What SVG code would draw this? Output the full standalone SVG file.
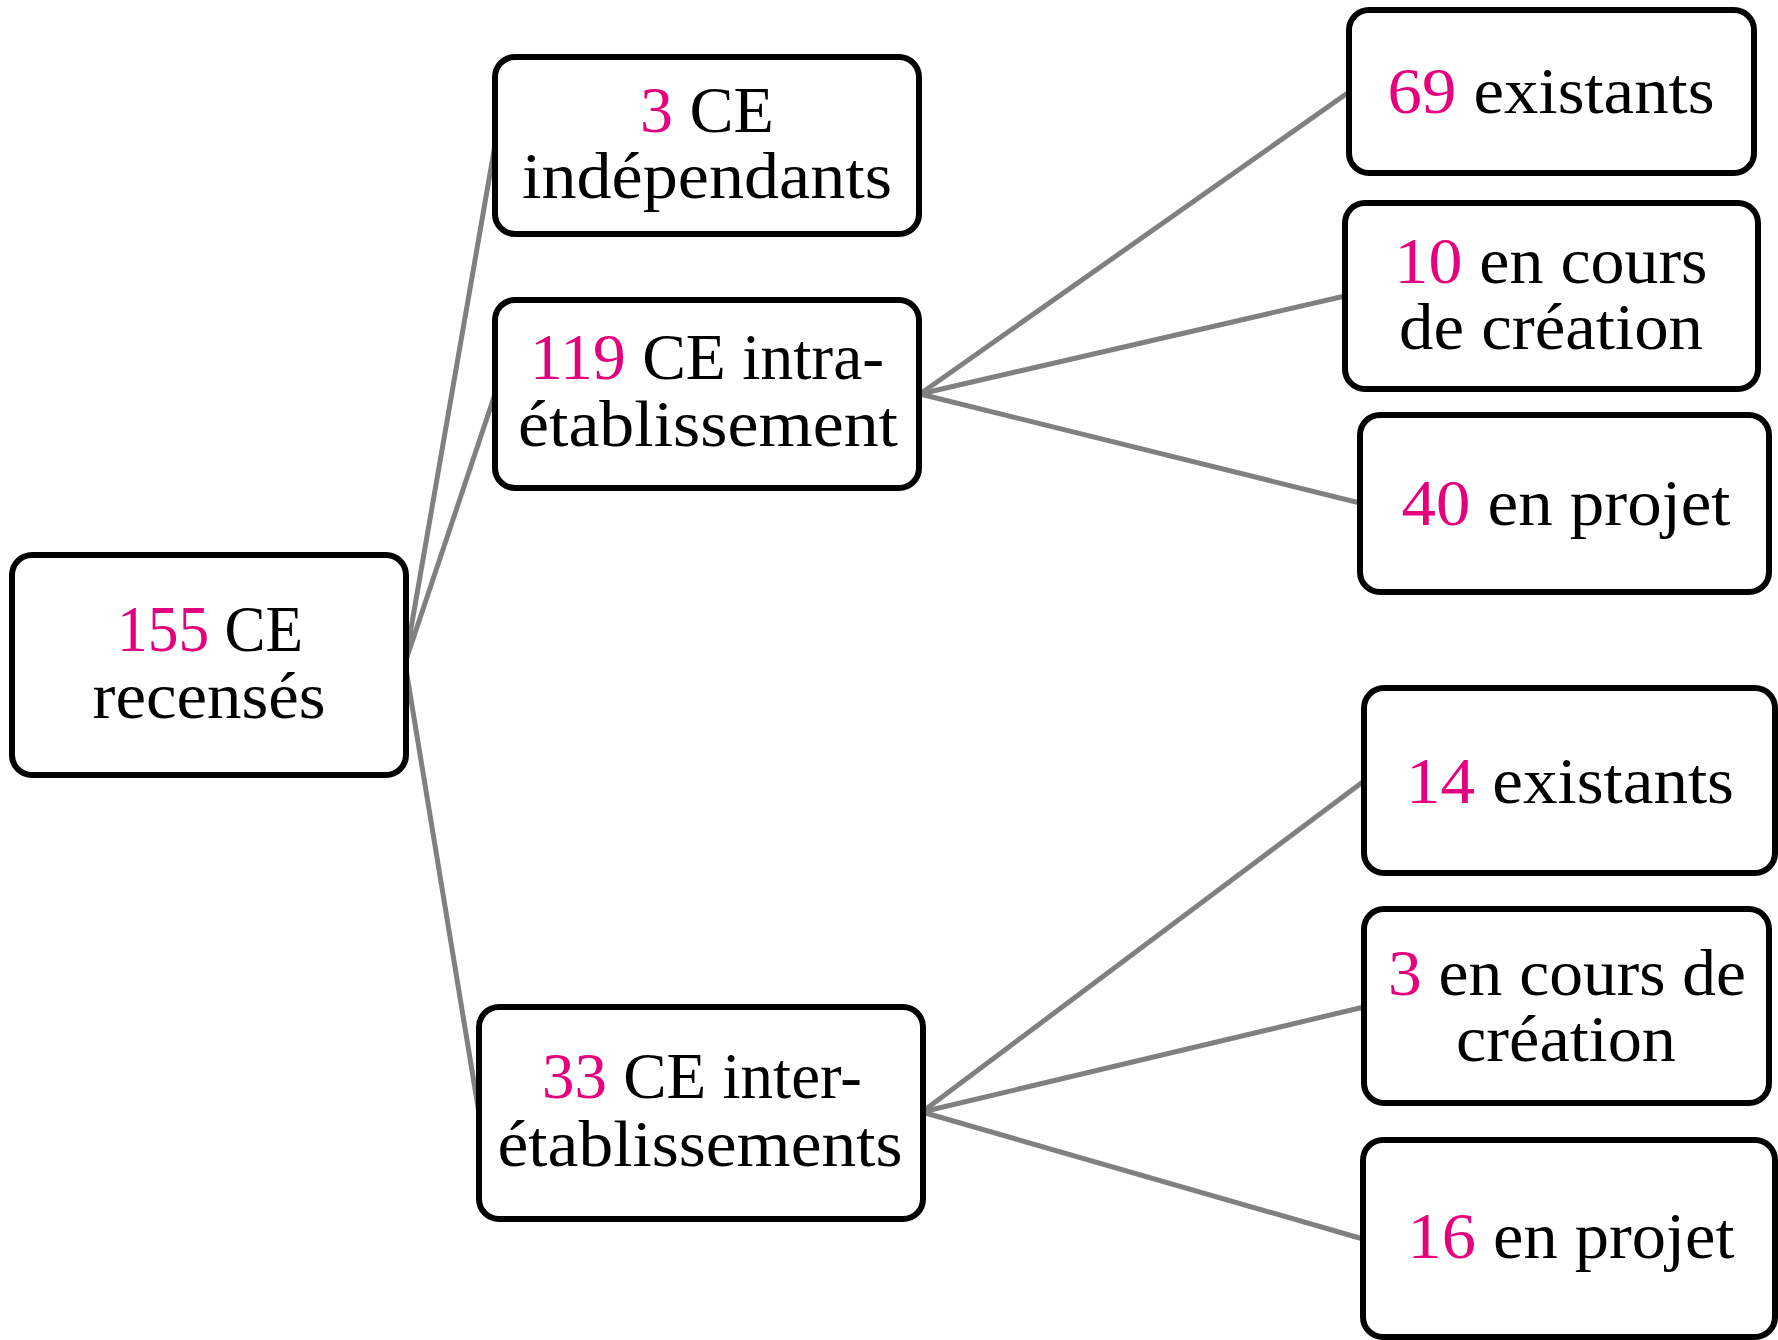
<svg xmlns="http://www.w3.org/2000/svg" width="1778" height="1340" viewBox="0 0 1778 1340">
<style>
.box{fill:#ffffff;stroke:#000000;stroke-width:6}
.t{font-family:"Liberation Serif","Times New Roman",serif;font-size:66px;fill:#000000;text-anchor:middle}
.n{fill:#E5007D}
.c{stroke:#808080;stroke-width:5;fill:none;stroke-linecap:round}
</style>
<rect width="1778" height="1340" fill="#ffffff"/>
<g id="connectors">
<line class="c" x1="405" y1="663" x2="495" y2="145"/>
<line class="c" x1="405" y1="663" x2="495" y2="394"/>
<line class="c" x1="405" y1="663" x2="479" y2="1113"/>
<line class="c" x1="920" y1="394" x2="1349" y2="92"/>
<line class="c" x1="920" y1="394" x2="1345" y2="296"/>
<line class="c" x1="920" y1="394" x2="1360" y2="503"/>
<line class="c" x1="922" y1="1112" x2="1364" y2="781"/>
<line class="c" x1="922" y1="1112" x2="1364" y2="1007"/>
<line class="c" x1="922" y1="1112" x2="1363" y2="1239"/>
</g>
<g id="root">
<rect class="box" x="12" y="555" width="394" height="220" rx="20"/>
<text class="t" x="210" y="651" textLength="186" lengthAdjust="spacingAndGlyphs"><tspan class="n">155</tspan> CE</text>
<text class="t" x="209" y="718" textLength="233" lengthAdjust="spacingAndGlyphs">recensés</text>
</g>
<g id="independants">
<rect class="box" x="495" y="57" width="424" height="177" rx="20"/>
<text class="t" x="707" y="132"><tspan class="n">3</tspan> CE</text>
<text class="t" x="707" y="198" textLength="370" lengthAdjust="spacingAndGlyphs">indépendants</text>
</g>
<g id="intra">
<rect class="box" x="495" y="300" width="424" height="188" rx="20"/>
<text class="t" x="707" y="379" textLength="354" lengthAdjust="spacingAndGlyphs"><tspan class="n">119</tspan> CE intra-</text>
<text class="t" x="708" y="446" textLength="380" lengthAdjust="spacingAndGlyphs">établissement</text>
</g>
<g id="inter">
<rect class="box" x="479" y="1007" width="444" height="212" rx="20"/>
<text class="t" x="702" y="1098" textLength="320" lengthAdjust="spacingAndGlyphs"><tspan class="n">33</tspan> CE inter-</text>
<text class="t" x="700" y="1166" textLength="405" lengthAdjust="spacingAndGlyphs">établissements</text>
</g>
<g id="intra-existants">
<rect class="box" x="1349" y="10" width="405" height="163" rx="20"/>
<text class="t" x="1551" y="113" textLength="327" lengthAdjust="spacingAndGlyphs"><tspan class="n">69</tspan> existants</text>
</g>
<g id="intra-creation">
<rect class="box" x="1345" y="203" width="413" height="186" rx="20"/>
<text class="t" x="1551" y="283" textLength="313" lengthAdjust="spacingAndGlyphs"><tspan class="n">10</tspan> en cours</text>
<text class="t" x="1551" y="349" textLength="304" lengthAdjust="spacingAndGlyphs">de création</text>
</g>
<g id="intra-projet">
<rect class="box" x="1360" y="415" width="409" height="177" rx="20"/>
<text class="t" x="1566" y="525" textLength="329" lengthAdjust="spacingAndGlyphs"><tspan class="n">40</tspan> en projet</text>
</g>
<g id="inter-existants">
<rect class="box" x="1364" y="688" width="411" height="185" rx="20"/>
<text class="t" x="1570" y="803" textLength="328" lengthAdjust="spacingAndGlyphs"><tspan class="n">14</tspan> existants</text>
</g>
<g id="inter-creation">
<rect class="box" x="1364" y="909" width="405" height="194" rx="20"/>
<text class="t" x="1567" y="995" textLength="358" lengthAdjust="spacingAndGlyphs"><tspan class="n">3</tspan> en cours de</text>
<text class="t" x="1566" y="1061" textLength="220" lengthAdjust="spacingAndGlyphs">création</text>
</g>
<g id="inter-projet">
<rect class="box" x="1363" y="1140" width="412" height="197" rx="20"/>
<text class="t" x="1571" y="1258" textLength="327" lengthAdjust="spacingAndGlyphs"><tspan class="n">16</tspan> en projet</text>
</g>
</svg>
